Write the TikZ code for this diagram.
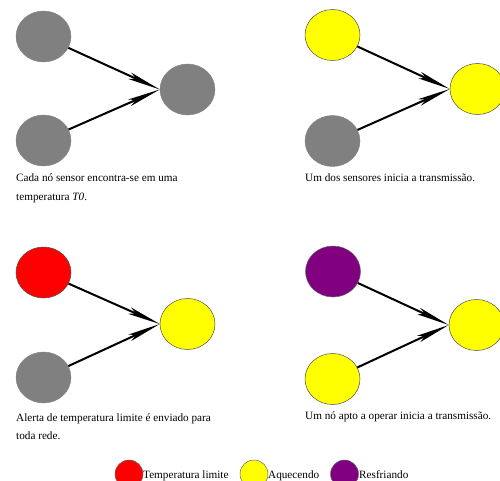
\documentclass[tikz,border=0pt]{standalone}
\usepackage{fontspec}
\setmainfont{Liberation Serif}
\usetikzlibrary{shapes.geometric,arrows.meta}
\definecolor{purplec}{RGB}{128,0,128}
\definecolor{yellowc}{RGB}{255,255,0}
\definecolor{redc}{RGB}{255,0,0}
\definecolor{grayc}{RGB}{128,128,128}
\tikzset{
  sensor/.style={ellipse, minimum width=55pt, minimum height=51pt, inner sep=0pt},
  grayn/.style={sensor, fill=grayc, draw=grayc, line width=0.4pt},
  yellown/.style={sensor, fill=yellowc, draw=black!70, line width=0.5pt},
  redn/.style={sensor, fill=redc, draw=black!70, line width=0.5pt},
  purplen/.style={sensor, fill=purplec, draw=black!60, line width=0.5pt},
  link/.style={line width=2pt, -{Stealth[length=33pt, width=7pt, inset=7pt]}},
  caption/.style={anchor=base west, inner sep=0pt, font=\fontsize{11.2pt}{13pt}\selectfont},
  legdot/.style={circle, minimum size=28pt, inner sep=0pt, line width=0.5pt, draw=black!60},
}
\begin{document}
\begin{tikzpicture}[x=1pt, y=-1pt]
\useasboundingbox (0,0) rectangle (500,481);
% panel 1
\node[grayn] (a1) at (43.5,36.5) {};
\node[grayn] (b1) at (43.5,140.5) {};
\node[grayn] (c1) at (187.5,89.5) {};
\draw[link] (a1) -- (c1.west);
\draw[link] (b1) -- (c1.west);
\node[caption] (t1a) at (16,182) {Cada nó sensor encontra-se em uma};
\node[caption] (t1b) at (16,200) {temperatura \textit{T0}.};
% panel 2
\node[yellown] (a2) at (332.5,35) {};
\node[grayn] (b2) at (332.5,141) {};
\node[yellown] (c2) at (477.5,89) {};
\draw[link] (a2) -- (c2.west);
\draw[link] (b2) -- (c2.west);
\node[caption] (t2a) at (305,182) {Um dos sensores inicia a transmissão.};
% panel 3
\node[redn] (a3) at (43.5,272.5) {};
\node[grayn] (b3) at (43.5,377.5) {};
\node[yellown] (c3) at (187.5,324) {};
\draw[link] (a3) -- (c3.west);
\draw[link] (b3) -- (c3.west);
\node[caption] (t3a) at (16,421) {Alerta de temperatura limite é enviado para};
\node[caption] (t3b) at (16,439) {toda rede.};
% panel 4
\node[purplen] (a4) at (333,271.5) {};
\node[yellown] (b4) at (332.5,379) {};
\node[yellown] (c4) at (476.5,325) {};
\draw[link] (a4) -- (c4.west);
\draw[link] (b4) -- (c4.west);
\node[caption] (t4a) at (305,419) {Um nó apto a operar inicia a transmissão.};
% legend
\node[legdot, fill=redc] (l1) at (129,474) {};
\node[caption] (l1t) at (143,478) {Temperatura limite};
\node[legdot, fill=yellowc] (l2) at (254,474) {};
\node[caption] (l2t) at (268,478) {Aquecendo};
\node[legdot, fill=purplec] (l3) at (344.5,474) {};
\node[caption] (l3t) at (359,478) {Resfriando};
\end{tikzpicture}
\end{document}
